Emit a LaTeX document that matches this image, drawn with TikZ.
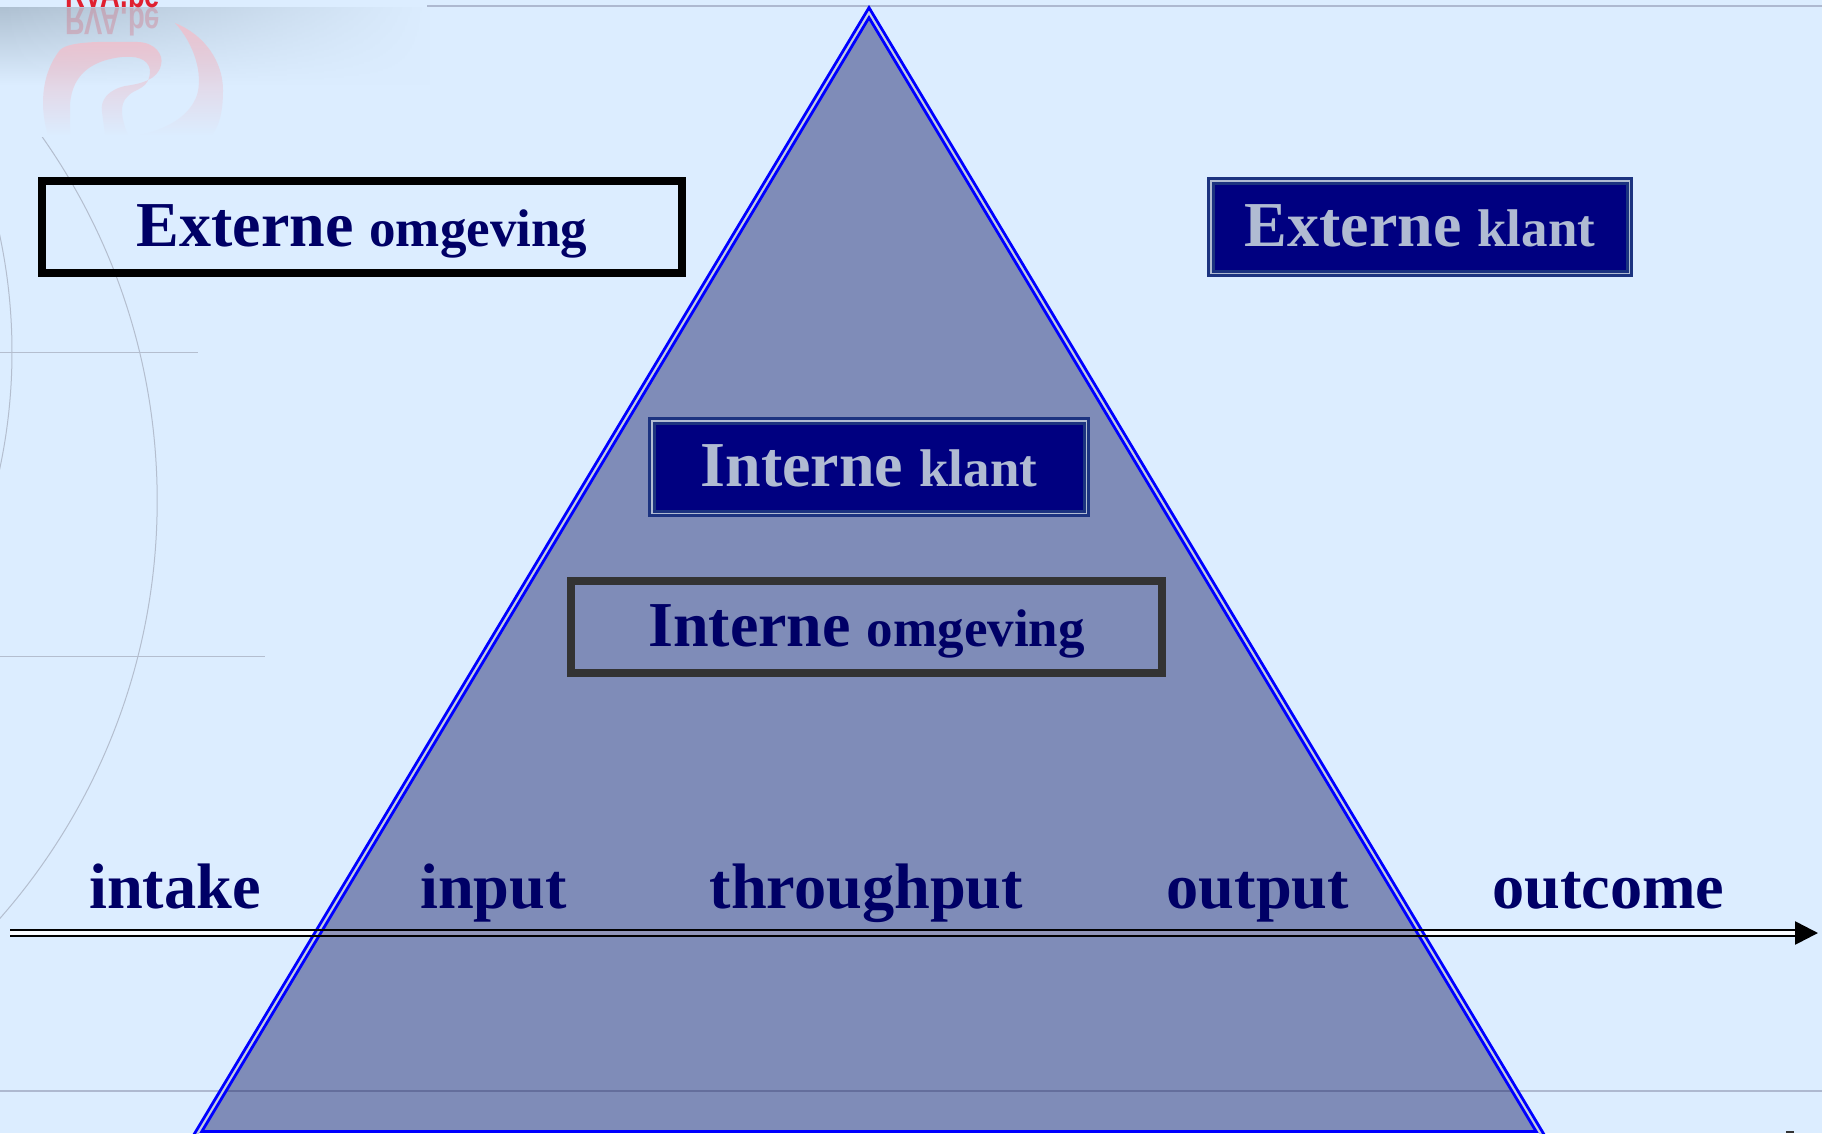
\documentclass[tikz,border=0pt]{standalone}
\usepackage{fontspec}
\setmainfont{Liberation Serif}
\newfontfamily\logofont{Liberation Sans}
\usetikzlibrary{arrows.meta,fadings}
\definecolor{bgblue}{HTML}{DCEDFF}
\definecolor{rulegray}{HTML}{AEB9D0}
\definecolor{thingray}{HTML}{B4BECF}
\definecolor{inknavy}{HTML}{000066}
\definecolor{boxnavy}{HTML}{000080}
\definecolor{boxedge}{HTML}{1C3380}
\definecolor{boxtext}{HTML}{B0BBD2}
\definecolor{trifill}{HTML}{000856}
\definecolor{trigap}{HTML}{C4CDDF}
\definecolor{pure}{HTML}{0000FF}
\definecolor{darkframe}{HTML}{333333}
\definecolor{bandgray}{HTML}{AFC1D2}
\definecolor{logored}{HTML}{E02030}
\definecolor{logopink}{HTML}{EBC3D0}
\tikzfading[name=fadeleftright,left color=transparent!0,right color=transparent!100]
\tikzfading[name=fadetopbottom,top color=transparent!0,middle color=transparent!12,bottom color=transparent!100]
\newcommand{\bigsmall}[2]{{\fontsize{64}{70}\selectfont #1 }{\fontsize{53}{60}\selectfont #2}}
\tikzset{
  rule/.style={rulegray,line width=2pt},
  thin rule/.style={thingray,line width=1pt},
  boxbase/.style={rectangle,inner sep=0pt,text height=38pt,text depth=0pt,align=center,font=\bfseries},
  frame box/.style={boxbase,draw,line width=8pt,text=inknavy},
  solid box/.style={boxbase,fill=boxnavy,draw=boxedge,line width=3pt,double=boxtext,double distance=1.5pt,text=boxtext},
  stage/.style={anchor=base west,inner sep=0pt,text=inknavy,font=\fontsize{64.3}{70}\selectfont\bfseries},
  flowline/.style={black,line width=2.6pt},
  pyramid edge/.style={pure,line width=2.8pt,miter limit=10},
}
\begin{document}
\begin{tikzpicture}[x=1pt,y=-1pt]
\useasboundingbox (0,0) rectangle (1822,1133);
\clip (0,0) rectangle (1822,1133);
\fill[bgblue] (0,0) rectangle (1822,1133);
% template decoration
\shade[top color=bandgray,bottom color=bgblue,path fading=fadeleftright] (0,8) rectangle (430,85);
\draw[rule] (427,5.5) -- (1822,5.5);
\draw[rule] (0,1091) -- (1822,1091);
\draw[thin rule] (0,352) -- (198,352);
\draw[thin rule] (0,656) -- (265,656);
\begin{scope}
  \clip (0,137) rectangle (300,918);
  \draw[thin rule] (-475.8,500.8) circle[radius=633pt];
\end{scope}
\draw[thin rule] (-545,352) circle[radius=557pt];
% logo
\node[anchor=base west,inner sep=0pt,text=logored] (logo) at (65,7) {\scalebox{.72}[1]{\logofont\bfseries\fontsize{38}{40}\selectfont RVA.be}};
\node[anchor=base west,inner sep=0pt,text=logored,opacity=.2] (logomirror) at (65,8) {\scalebox{.72}[-1]{\logofont\bfseries\fontsize{38}{40}\selectfont RVA.be}};
\fill[logopink,path fading=fadetopbottom]
  (48,135) .. controls (40,110) and (40,75) .. (60,50)
  .. controls (70,40) and (110,42) .. (137,42)
  .. controls (155,42) and (164,55) .. (161,65)
  .. controls (158,80) and (140,84) .. (125,86)
  .. controls (108,90) and (100,100) .. (102,112)
  -- (105,135) -- (128,135)
  .. controls (122,120) and (118,105) .. (128,96)
  .. controls (135,88) and (150,90) .. (150,70)
  .. controls (148,58) and (135,56) .. (122,57)
  .. controls (95,60) and (72,72) .. (70,105)
  -- (70,135) -- cycle;
\fill[logopink,path fading=fadetopbottom]
  (175,23) .. controls (205,35) and (223,62) .. (223,90)
  .. controls (223,110) and (220,125) .. (212,135)
  -- (140,135)
  .. controls (170,128) and (190,115) .. (197,95)
  .. controls (203,75) and (195,45) .. (175,23) -- cycle;
% flow arrow, light core below the pyramid
\coordinate (flowstart) at (10,933);
\coordinate (flowbase) at (1795,933);
\coordinate (flowtip) at (1818,933);
\draw[white!85!bgblue,line width=4pt] (flowstart) -- (flowbase);
% pyramid
\fill[trifill,fill opacity=.42] (869,17.65) -- (1536.2,1131.5) -- (201.8,1131.5) -- cycle;
\draw[trigap,line width=2.6pt,miter limit=10] (869,12.65) -- (1541.9,1136) -- (196.1,1136) -- cycle;
\draw[pyramid edge] (869,7.65) -- (1547.3,1140) -- (190.7,1140) -- cycle;
\draw[pyramid edge] (869,17.65) -- (1536.2,1131.5) -- (201.8,1131.5) -- cycle;
\draw[flowline] ([yshift=2.9pt]flowstart) -- ([yshift=2.9pt]flowbase);
\draw[flowline] ([yshift=-2.9pt]flowstart) -- ([yshift=-2.9pt]flowbase);
\draw[flowline,-{Triangle[length=23pt,width=23pt]}] (flowbase) -- (flowtip);
% boxes
\node[frame box,draw=black,minimum width=640pt,minimum height=92pt] (extomg) at (362,227) {\bigsmall{Externe}{omgeving}};
\node[frame box,draw=darkframe,minimum width=591pt,minimum height=92pt] (intomg) at (866.5,627) {\bigsmall{Interne}{omgeving}};
\node[solid box,minimum width=418.5pt,minimum height=92.5pt] (extkl) at (1420,227) {\bigsmall{Externe}{klant}};
\node[solid box,minimum width=434.5pt,minimum height=92.5pt] (intkl) at (869,467) {\bigsmall{Interne}{klant}};
% stages
\node[stage] (intake) at (89,908) {intake};
\node[stage] (input) at (420,908) {input};
\node[stage] (through) at (709.5,908) {throughput};
\node[stage] (output) at (1166.5,908) {output};
\node[stage] (outcome) at (1492,908) {outcome};
% page-number fragment
\fill[darkframe] (1786,1131) rectangle (1794,1133);
\end{tikzpicture}
\end{document}
